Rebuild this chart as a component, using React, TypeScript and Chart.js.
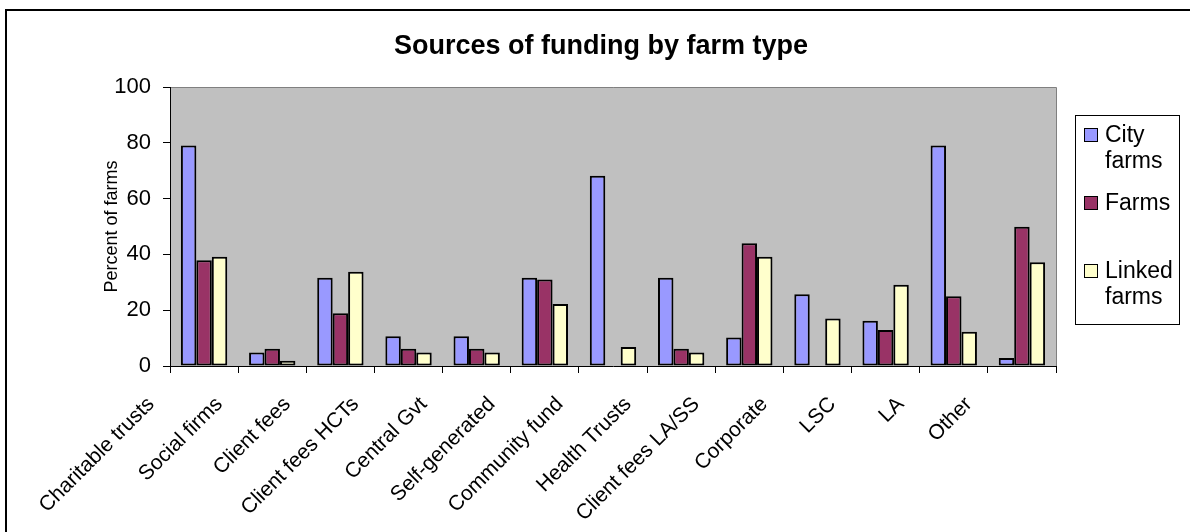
import React, { useEffect, useRef } from "react";
import { Chart, registerables } from "chart.js";

Chart.register(...registerables);

const categories = [
  "Charitable trusts",
  "Social firms",
  "Client fees",
  "Client fees HCTs",
  "Central Gvt",
  "Self-generated",
  "Community fund",
  "Health Trusts",
  "Client fees LA/SS",
  "Corporate",
  "LSC",
  "LA",
  "Other",
];
const seriesNames = ["City farms", "Farms", "Linked farms"];
const cityFarms = [79, 4.8, 31.6, 10.7, 10.7, 31.6, 68.2, 31.6, 10.2, 25.7, 16.2, 79, 2.9];
const farmsValues = [37.9, 6.2, 18.9, 6.2, 6.2, 31, 0, 6.2, 44, 0, 12.9, 25, 49.9];
const linkedFarms = [39.2, 1.9, 33.8, 4.8, 4.8, 22.2, 6.8, 4.8, 39.2, 17, 29.1, 12.3, 37.2];
const yTicks = [0, 20, 40, 60, 80, 100];
const chartTitle = "Sources of funding by farm type";
const yTitle = "Percent of farms";

const COLORS = ["#9999FF", "#993366", "#FFFFCC"];
const FONT = "'Liberation Sans', Arial, Helvetica, sans-serif";

const framePlugin = {
  id: "frameAndBg",
  beforeDraw(chart: any) {
    const { ctx, chartArea } = chart;
    ctx.save();
    ctx.fillStyle = "#ffffff";
    ctx.fillRect(0, 0, chart.width, chart.height);
    // outer frame (left + top)
    ctx.fillStyle = "#000000";
    ctx.fillRect(5, 9, 2, chart.height);
    ctx.fillRect(5, 9, chart.width, 2);
    // plot area
    ctx.fillStyle = "#C0C0C0";
    ctx.fillRect(chartArea.left, chartArea.top, chartArea.right - chartArea.left, chartArea.bottom - chartArea.top);
    ctx.strokeStyle = "#808080";
    ctx.lineWidth = 1;
    ctx.beginPath();
    ctx.moveTo(chartArea.left, chartArea.top + 0.5);
    ctx.lineTo(chartArea.right + 0.5, chartArea.top + 0.5);
    ctx.lineTo(chartArea.right + 0.5, chartArea.bottom);
    ctx.stroke();
    // title
    ctx.fillStyle = "#000";
    ctx.font = `bold 27px ${FONT}`;
    ctx.textAlign = "center";
    ctx.textBaseline = "alphabetic";
    ctx.fillText(chartTitle, 601, 54);
    ctx.restore();
  },
};

const legendPlugin = {
  id: "customLegend",
  afterDraw(chart: any) {
    const { ctx, chartArea } = chart;
    const left = Math.round(chartArea.right) + 19;
    const top = 115;
    ctx.save();
    ctx.strokeStyle = "#000000";
    ctx.lineWidth = 1;
    ctx.strokeRect(left + 0.5, top + 0.5, 104, 209);
    ctx.font = `23px ${FONT}`;
    ctx.textBaseline = "alphabetic";
    ctx.textAlign = "left";
    chart.data.datasets.forEach((ds: any, i: number) => {
      const base = top + 27 + i * 68;
      ctx.fillStyle = ds.backgroundColor;
      ctx.fillRect(left + 9, base - 14, 14, 14);
      ctx.strokeStyle = "#000";
      ctx.strokeRect(left + 9.5, base - 13.5, 13, 13);
      ctx.fillStyle = "#000";
      const lines = String(ds.label).split(" ");
      lines.forEach((ln: string, j: number) => {
        ctx.fillText(ln, left + 30, base + j * 26);
      });
    });
    ctx.restore();
  },
};

export default function App() {
  const ref = useRef<HTMLCanvasElement | null>(null);
  useEffect(() => {
    if (!ref.current) return;
    const values = [cityFarms, farmsValues, linkedFarms];
    const chart = new Chart(ref.current, {
      type: "bar",
      data: {
        labels: categories,
        datasets: seriesNames.map((name, i) => ({
          label: name,
          data: values[i],
          backgroundColor: COLORS[i],
          borderColor: "#000000",
          borderWidth: 2,
          borderSkipped: false,
          categoryPercentage: 0.68,
          barPercentage: 1,
        })),
      },
      options: {
        responsive: false,
        animation: false,
        devicePixelRatio: 1,
        layout: { padding: { left: 0, right: 134, top: 87, bottom: 0 } },
        plugins: {
          legend: { display: false },
          tooltip: { enabled: false },
          title: { display: false },
        },
        scales: {
          x: {
            type: "category",
            offset: true,
            grid: {
              offset: true,
              drawOnChartArea: false,
              drawTicks: true,
              tickLength: 7,
              color: "#000",
            },
            border: { display: true, color: "#000", width: 1 },
            ticks: {
              color: "#000",
              font: { family: FONT, size: 21 },
              minRotation: 45,
              maxRotation: 45,
              autoSkip: false,
              labelOffset: -53,
              padding: 19,
            },
            afterFit(scale: any) {
              scale.height = 166;
            },
          },
          y: {
            min: 0,
            max: 100,
            afterBuildTicks(scale: any) {
              scale.ticks = yTicks.map((v) => ({ value: v }));
            },
            grid: {
              drawOnChartArea: false,
              drawTicks: true,
              tickLength: 7,
              color: "#000",
            },
            border: { display: true, color: "#000", width: 1 },
            ticks: {
              color: "#000",
              font: { family: FONT, size: 22 },
              padding: 12,
            },
            title: {
              display: true,
              text: yTitle,
              color: "#000",
              font: { family: FONT, size: 18 },
              padding: { top: 101, bottom: 0 },
            },
            afterFit(scale: any) {
              scale.width = 170;
            },
          },
        },
      },
      plugins: [framePlugin, legendPlugin],
    } as any);
    return () => chart.destroy();
  }, []);
  return (
    <div style={{ position: "fixed", left: 0, top: 0, width: 1190, height: 532, overflow: "hidden", background: "#fff" }}>
      <canvas ref={ref} width={1190} height={532} style={{ display: "block" }} />
    </div>
  );
}
